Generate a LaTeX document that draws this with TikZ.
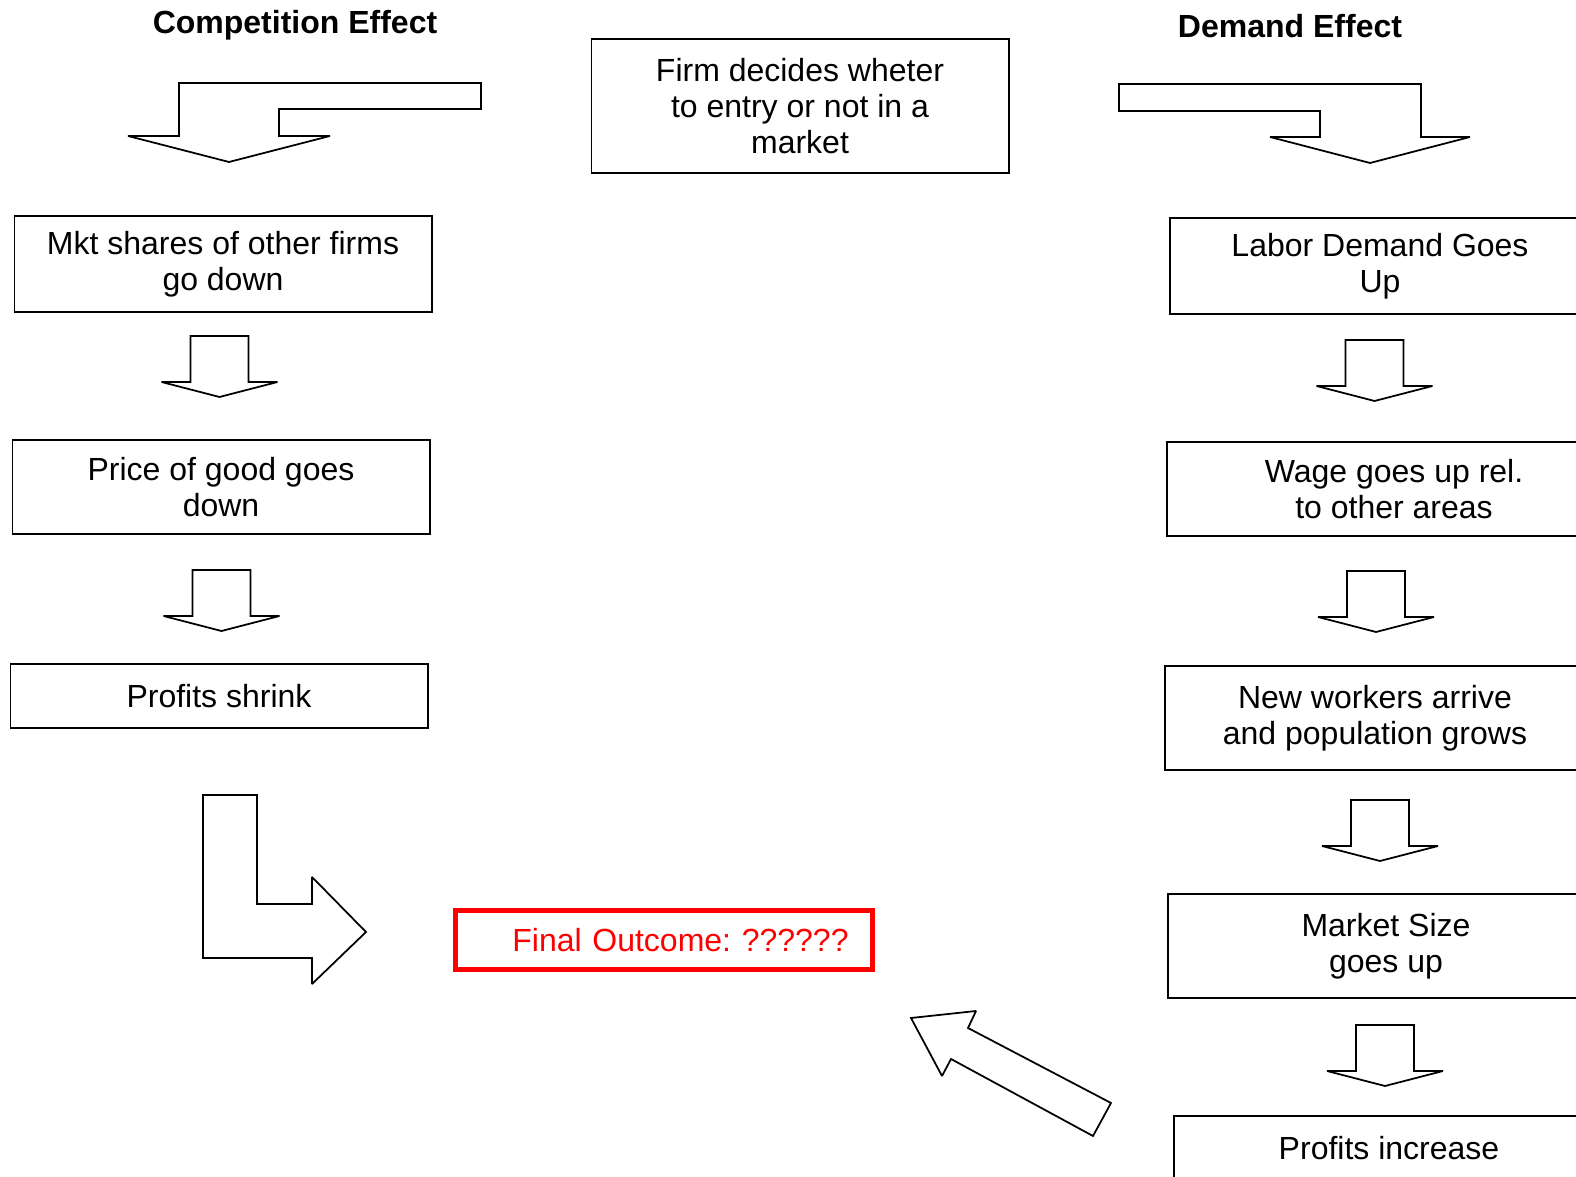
\documentclass[tikz,border=0pt]{standalone}
\usepackage{fontspec}
\setmainfont{Liberation Sans}
\usepackage{tikz}

\tikzset{
  box/.style={draw, line width=0.5pt, align=center, minimum width=4.17cm, inner sep=0pt},
  head/.style={font=\fontsize{9.1}{10.3}\selectfont\bfseries},
  blockarrow/.style={draw, fill=white, line width=0.5pt, line join=miter, miter limit=2},
  outcome/.style={draw=red, text=red, line width=1.4pt, minimum height=0.59cm,
    text width=3.69cm, align=right, inner xsep=0.24cm, inner ysep=0pt}
}

\begin{document}
\begin{tikzpicture}[x=0.01cm, y=-0.01cm, font=\fontsize{9.1}{10.3}\selectfont\frenchspacing]
        \path[use as bounding box, clip] (0,0) rectangle (1576,1177);
        \node[head] (comp) at (295,25) {Competition Effect};
        \node[head] (demand) at (1290,26) {Demand Effect};
        \node[box, minimum height=1.34cm] (firm) at (800,106) {Firm decides wheter\\to entry or not in a\\market};
        \node[box, minimum height=0.96cm] (shares) at (223,264) {Mkt shares of other firms\\go down};
        \node[box, minimum height=0.94cm] (price) at (221,487) {Price of good goes\\down};
        \node[box, minimum height=0.64cm] (shrink) at (219,696) {Profits shrink};
        \node[box, minimum width=4.2cm, minimum height=0.96cm] (labor) at (1380,266) {Labor Demand Goes\\Up};
        \node[box, minimum width=4.54cm, minimum height=0.94cm] (wage) at (1394,489) {Wage goes up rel.\\to other areas};
        \node[box, minimum width=4.2cm, minimum height=1.04cm] (workers) at (1375,718) {New workers arrive\\and population grows};
        \node[box, minimum width=4.36cm, minimum height=1.04cm] (size) at (1386,946) {Market Size\\goes up};
        \node[box, minimum width=4.3cm, minimum height=0.64cm] (increase) at (1389,1148) {Profits increase};
        \node[outcome] (final) at (664,940) {Final Outcome: ??????};
        \draw[blockarrow] (179,83) -- (481,83) -- (481,109) -- (279,109) -- (279,136) -- (330,136)
          -- (229,162) -- (128,136) -- (179,136) -- cycle;
        \draw[blockarrow] (1119,84) -- (1421,84) -- (1421,137) -- (1470,137) -- (1370,163)
          -- (1270,137) -- (1320,137) -- (1320,111) -- (1119,111) -- cycle;
        \foreach \x/\y in {219.5/336, 221.5/570, 1374.5/340, 1376/571, 1380/800, 1385/1025}
          \draw[blockarrow, shift={(\x,\y)}] (-29,0) -- (29,0) -- (29,46) -- (58,46) -- (0,61)
            -- (-58,46) -- (-29,46) -- cycle;
        \draw[blockarrow] (203,795) -- (257,795) -- (257,904) -- (312,904) -- (312,877) -- (366,932)
          -- (312,984) -- (312,958) -- (203,958) -- cycle;
        \draw[blockarrow] (911,1018) -- (976,1011) -- (968,1028) -- (1111,1103) -- (1093,1136)
          -- (951,1059) -- (942,1076) -- cycle;
\end{tikzpicture}
\end{document}
